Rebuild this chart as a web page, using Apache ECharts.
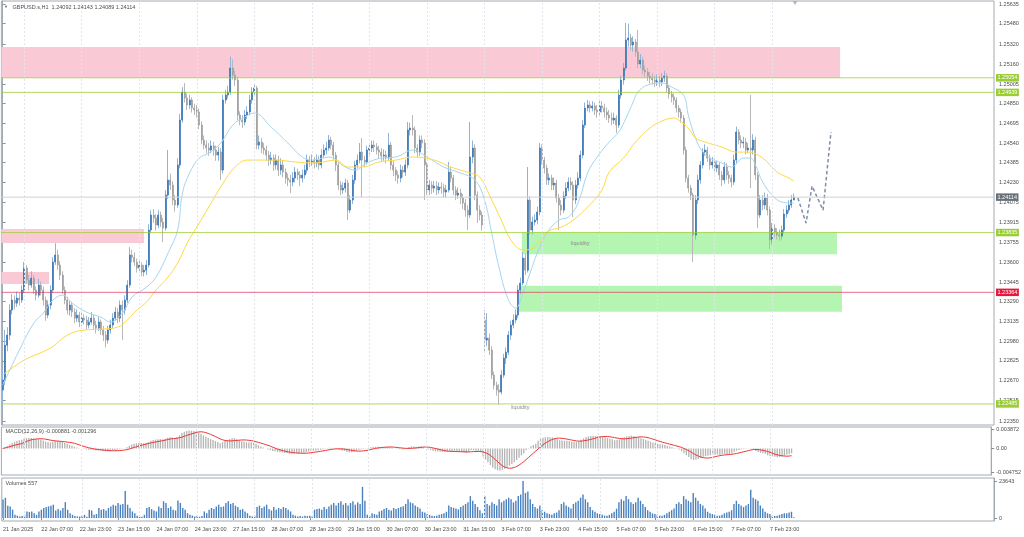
<!DOCTYPE html>
<html><head><meta charset="utf-8">
<script src="https://cdn.jsdelivr.net/npm/echarts@6/dist/echarts.min.js"></script>
<style>html,body{margin:0;padding:0;background:#fff}#c{width:1024px;height:537px}</style>
</head><body><div id="c"></div><script>
// ---------- DATA (GBPUSD.s H1, 21 Jan 15:00 .. 10 Feb 09:00) ----------
const closes = [
1.22673,1.22948,1.23027,1.23224,1.23303,1.23279,1.23319,1.23303,1.23382,1.23555,
1.23461,1.23421,1.23476,1.23382,1.23342,1.23421,1.23382,1.23303,1.23185,1.23264,
1.23382,1.23603,1.23658,1.23579,1.23500,1.23382,1.23303,1.23224,1.23264,1.23209,
1.23161,1.23185,1.23130,1.23161,1.23146,1.23106,1.23130,1.23161,1.23106,1.23082,
1.23130,1.23067,1.23027,1.22988,1.23067,1.23106,1.23161,1.23209,1.23161,1.23264,
1.23224,1.23303,1.23421,1.23658,1.23640,1.23603,1.23555,1.23579,1.23524,1.23539,
1.23579,1.23855,1.23973,1.23949,1.23894,1.23973,1.23918,1.23870,1.24130,1.24249,
1.24209,1.24091,1.24052,1.24367,1.24721,1.24942,1.24895,1.24840,1.24879,1.24816,
1.24800,1.24785,1.24682,1.24564,1.24524,1.24501,1.24485,1.24517,1.24485,1.24445,
1.24469,1.24327,1.24879,1.24918,1.24942,1.25131,1.25076,1.25037,1.24761,1.24721,
1.24706,1.24761,1.24785,1.24879,1.24942,1.24974,1.24524,1.24548,1.24501,1.24485,
1.24445,1.24406,1.24422,1.24367,1.24406,1.24327,1.24367,1.24311,1.24264,1.24249,
1.24233,1.24264,1.24311,1.24288,1.24264,1.24288,1.24327,1.24406,1.24391,1.24406,
1.24382,1.24406,1.24367,1.24445,1.24485,1.24501,1.24564,1.24524,1.24445,1.24367,
1.24209,1.24170,1.24185,1.24225,1.24012,1.24091,1.24249,1.24367,1.24406,1.24469,
1.24406,1.24391,1.24485,1.24501,1.24524,1.24509,1.24485,1.24469,1.24438,1.24445,
1.24422,1.24524,1.24367,1.24327,1.24288,1.24264,1.24327,1.24311,1.24367,1.24643,
1.24658,1.24643,1.24501,1.24469,1.24564,1.24540,1.24367,1.24170,1.24209,1.24185,
1.24201,1.24170,1.24193,1.24185,1.24154,1.24170,1.24311,1.24264,1.24170,1.24130,
1.24146,1.24107,1.24067,1.24012,1.23973,1.24430,1.24501,1.24130,1.24012,1.23973,
1.23894,1.22988,1.23003,1.22909,1.22712,1.22633,1.22594,1.22578,1.22712,1.22846,
1.22893,1.23027,1.23106,1.23146,1.23185,1.23382,1.23437,1.23634,1.23539,1.24091,
1.23855,1.23918,1.23933,1.23997,1.24501,1.24406,1.24343,1.24249,1.24264,1.24209,
1.24225,1.24107,1.24052,1.24012,1.24123,1.24185,1.24233,1.24209,1.24091,1.24209,
1.24264,1.24445,1.24682,1.24816,1.24840,1.24816,1.24832,1.24800,1.24785,1.24832,
1.24816,1.24785,1.24761,1.24737,1.24721,1.24737,1.24682,1.24918,1.25037,1.25131,
1.25352,1.25368,1.25312,1.25336,1.25257,1.25163,1.25194,1.25115,1.25100,1.25068,
1.25052,1.25037,1.25021,1.25037,1.25021,1.25052,1.25068,1.24974,1.24926,1.24903,
1.24879,1.24816,1.24785,1.24737,1.24485,1.24264,1.24185,1.24130,1.23815,1.24091,
1.24249,1.24367,1.24469,1.24485,1.24422,1.24367,1.24391,1.24343,1.24367,1.24288,
1.24249,1.24351,1.24288,1.24264,1.24233,1.24406,1.24627,1.24564,1.24540,1.24548,
1.24485,1.24501,1.24485,1.24564,1.24288,1.23973,1.24091,1.24052,1.24107,1.24012,
1.23776,1.23870,1.23839,1.23815,1.23807,1.23855,1.23981,1.24012,1.24052,1.24092,
1.24114];
const highs = [
1.22752,1.23067,1.23090,1.23270,1.23350,1.23340,1.23370,1.23360,1.23420,1.23603,
1.23580,1.23500,1.23530,1.23500,1.23410,1.23470,1.23450,1.23410,1.23330,1.23300,
1.23420,1.23640,1.23752,1.23700,1.23610,1.23530,1.23410,1.23330,1.23300,1.23290,
1.23240,1.23230,1.23210,1.23200,1.23190,1.23180,1.23170,1.23210,1.23190,1.23140,
1.23170,1.23150,1.23100,1.23060,1.23100,1.23150,1.23200,1.23250,1.23240,1.23300,
1.23300,1.23340,1.23460,1.23720,1.23700,1.23680,1.23630,1.23620,1.23600,1.23580,
1.23620,1.23900,1.24010,1.24020,1.23980,1.24010,1.24000,1.23950,1.24170,1.24485,
1.24300,1.24240,1.24130,1.24420,1.24770,1.24980,1.25013,1.24930,1.24920,1.24900,
1.24850,1.24840,1.24810,1.24710,1.24600,1.24560,1.24540,1.24560,1.24550,1.24520,
1.24510,1.24500,1.24920,1.24960,1.24990,1.25220,1.25200,1.25110,1.25060,1.24790,
1.24760,1.24800,1.24830,1.24920,1.24980,1.25000,1.24990,1.24600,1.24580,1.24540,
1.24520,1.24480,1.24470,1.24450,1.24450,1.24440,1.24420,1.24400,1.24340,1.24300,
1.24290,1.24310,1.24350,1.24340,1.24320,1.24330,1.24370,1.24450,1.24440,1.24450,
1.24430,1.24450,1.24440,1.24490,1.24530,1.24550,1.24603,1.24590,1.24550,1.24470,
1.24390,1.24240,1.24230,1.24260,1.24250,1.24130,1.24290,1.24400,1.24450,1.24540,
1.24580,1.24440,1.24520,1.24540,1.24560,1.24560,1.24540,1.24520,1.24500,1.24490,
1.24480,1.24620,1.24550,1.24400,1.24350,1.24320,1.24370,1.24360,1.24410,1.24706,
1.24700,1.24760,1.24670,1.24530,1.24600,1.24600,1.24570,1.24390,1.24250,1.24240,
1.24240,1.24240,1.24230,1.24230,1.24220,1.24210,1.24391,1.24350,1.24290,1.24200,
1.24190,1.24180,1.24140,1.24100,1.24050,1.24706,1.24560,1.24530,1.24160,1.24050,
1.24000,1.23224,1.23201,1.23040,1.22940,1.22740,1.22660,1.22640,1.22750,1.22880,
1.22930,1.23060,1.23140,1.23190,1.23230,1.23420,1.23480,1.23680,1.23670,1.24351,
1.24120,1.23960,1.23980,1.24040,1.24540,1.24530,1.24430,1.24370,1.24300,1.24290,
1.24270,1.24250,1.24140,1.24090,1.24160,1.24230,1.24270,1.24270,1.24240,1.24250,
1.24310,1.24480,1.24720,1.24860,1.24879,1.24870,1.24870,1.24860,1.24840,1.24870,
1.24870,1.24850,1.24820,1.24800,1.24780,1.24780,1.24760,1.24960,1.25070,1.25170,
1.25486,1.25480,1.25400,1.25380,1.25360,1.25431,1.25240,1.25220,1.25150,1.25130,
1.25100,1.25090,1.25070,1.25080,1.25070,1.25090,1.25110,1.25090,1.25000,1.24950,
1.24930,1.24900,1.24840,1.24810,1.24760,1.24510,1.24290,1.24210,1.24150,1.24130,
1.24290,1.24400,1.24500,1.24530,1.24510,1.24450,1.24430,1.24420,1.24400,1.24390,
1.24320,1.24390,1.24380,1.24320,1.24290,1.24450,1.24670,1.24650,1.24600,1.24590,
1.24580,1.24540,1.24918,1.24610,1.24590,1.24310,1.24130,1.24130,1.24150,1.24140,
1.24040,1.23910,1.23900,1.23870,1.23860,1.23890,1.24020,1.24050,1.24090,1.24130,
1.24143];
const lows = [
1.22437,1.22633,1.22900,1.22990,1.23190,1.23230,1.23250,1.23260,1.23280,1.23360,
1.23430,1.23380,1.23400,1.23350,1.23300,1.23320,1.23340,1.23260,1.23140,1.23160,
1.23230,1.23360,1.23580,1.23540,1.23460,1.23350,1.23270,1.23190,1.23180,1.23170,
1.23120,1.23130,1.23090,1.23100,1.23110,1.23070,1.23080,1.23110,1.23070,1.23040,
1.23060,1.23030,1.22980,1.22930,1.22960,1.23040,1.23080,1.23140,1.23120,1.23130,
1.22990,1.23190,1.23280,1.23400,1.23600,1.23570,1.23520,1.23530,1.23490,1.23490,
1.23500,1.23560,1.23830,1.23910,1.23850,1.23870,1.23880,1.23760,1.23850,1.24100,
1.24170,1.24050,1.24000,1.24030,1.24340,1.24700,1.24860,1.24800,1.24810,1.24780,
1.24760,1.24740,1.24650,1.24530,1.24490,1.24460,1.24440,1.24460,1.24440,1.24400,
1.24400,1.24249,1.24300,1.24850,1.24890,1.24920,1.25040,1.24990,1.24720,1.24680,
1.24660,1.24680,1.24730,1.24760,1.24850,1.24920,1.24490,1.24490,1.24460,1.24450,
1.24400,1.24360,1.24370,1.24320,1.24330,1.24280,1.24290,1.24270,1.24220,1.24200,
1.24146,1.24200,1.24230,1.24250,1.24200,1.24230,1.24260,1.24300,1.24350,1.24360,
1.24340,1.24350,1.24330,1.24340,1.24420,1.24450,1.24480,1.24490,1.24410,1.24320,
1.24170,1.24130,1.24140,1.24150,1.23933,1.23990,1.24060,1.24220,1.24340,1.24380,
1.24115,1.24350,1.24370,1.24450,1.24470,1.24470,1.24450,1.24420,1.24400,1.24400,
1.24380,1.24400,1.24330,1.24280,1.24240,1.24220,1.24230,1.24270,1.24280,1.24340,
1.24600,1.24600,1.24460,1.24430,1.24440,1.24500,1.24091,1.24130,1.24130,1.24140,
1.24150,1.24130,1.24140,1.24140,1.24110,1.24110,1.24150,1.24230,1.24130,1.24090,
1.24100,1.24060,1.24020,1.23960,1.23855,1.23950,1.24380,1.24090,1.23910,1.23930,
1.23850,1.22885,1.22940,1.22870,1.22680,1.22600,1.22550,1.22480,1.22560,1.22690,
1.22800,1.22870,1.22990,1.23080,1.23120,1.23160,1.23350,1.23420,1.23500,1.23520,
1.23820,1.23820,1.23890,1.23900,1.23970,1.24370,1.24300,1.24210,1.24210,1.24170,
1.24170,1.24070,1.23855,1.23970,1.23990,1.24100,1.24160,1.24170,1.23957,1.24060,
1.24180,1.24240,1.24420,1.24660,1.24790,1.24780,1.24790,1.24760,1.24740,1.24750,
1.24780,1.24740,1.24720,1.24700,1.24680,1.24690,1.24619,1.24660,1.24890,1.25000,
1.25110,1.25300,1.25270,1.25260,1.25220,1.25130,1.25130,1.25080,1.25060,1.25030,
1.25010,1.25000,1.24980,1.24990,1.24980,1.24990,1.25020,1.24940,1.24890,1.24860,
1.24840,1.24780,1.24740,1.24700,1.24450,1.24230,1.24150,1.24090,1.23603,1.23780,
1.24060,1.24220,1.24340,1.24440,1.24390,1.24330,1.24340,1.24300,1.24310,1.24250,
1.24200,1.24220,1.24250,1.24220,1.24190,1.24210,1.24380,1.24530,1.24500,1.24500,
1.24450,1.24460,1.24185,1.24450,1.24250,1.23870,1.23950,1.24010,1.24020,1.23970,
1.23705,1.23740,1.23800,1.23780,1.23770,1.23780,1.23830,1.23950,1.23990,1.24030,
1.24089];
const firstOpen = 1.22594;
const gapOpens = {201: 1.23146};           // Monday 3 Feb gap open
const volumes = [
11800,12900,7900,7400,5300,2000,1500,900,1200,2000,
4200,3800,4200,3100,2000,4200,5300,6400,7000,7400,
7900,8500,4800,5700,4800,6400,10100,5300,3100,2000,
1200,900,900,1500,2000,800,5300,4800,2000,2500,
6400,5300,5700,4800,6400,7400,8500,7900,9600,8500,
9000,17300,8500,6400,4200,3100,1500,900,800,2000,
6400,7000,5700,4800,4200,7400,6400,10700,9600,6400,
7400,5300,4800,11200,9600,6400,5300,3100,2000,1500,
900,1500,800,1200,4200,3100,5300,6400,5700,7400,
8500,7000,7400,9600,10700,9000,9600,7900,7000,5300,
5700,4200,3100,1500,900,1500,7000,7900,6400,7400,
8500,5700,4800,7000,5300,6400,5700,7000,6400,5300,
4200,2000,1500,900,1200,900,1500,1200,1500,1000,
5300,5700,6000,5300,7000,5700,7400,8500,9600,8000,
9600,10700,8500,9600,8000,9600,10700,8500,10000,9000,
19900,11000,2000,1500,3100,2500,2000,4200,4800,5700,
6400,5300,4800,6400,5700,6400,7000,7500,9000,12000,
10000,9500,8000,7000,6000,4000,3500,2500,2000,1500,
1200,1500,2000,2500,3000,4000,8000,7000,6500,6000,
5500,7000,8000,9000,10000,14000,11000,9000,7000,5000,
3000,14000,9000,8000,10000,9000,8000,12000,10000,11000,
12000,13000,12000,10000,11000,14000,15000,23643,16000,17000,
12000,9000,7000,6000,8000,5000,4000,3000,2500,2000,
3000,3500,5000,9000,10000,8000,7000,6000,9000,10000,
11000,13000,15000,12000,10000,7000,5000,4000,3000,2500,
2000,1500,1500,2000,3000,4000,6000,10000,12000,11000,
14000,12000,10000,9000,10000,13000,11000,9000,7000,5000,
4000,3000,2500,2000,1500,1500,2000,3000,4000,5000,
6000,9000,10000,9000,14000,12000,11000,10000,16000,13000,
11000,9000,8000,6000,4000,3000,2500,2000,1500,1500,
2000,3000,3500,4000,5000,9000,11000,9000,8000,7000,
8000,9000,18000,13000,12000,11000,8000,6000,4000,3000,
2500,1500,1200,1500,2000,2500,3000,3000,3500,4000,
557];
// moving averages (bar index, price)
const maFastIdx = [0,3,7,13,17,21,25,29,35,41,45,50,54,60,64,69,73,75,78,82,86,91,96,101,105,112,119,125,129,136,143,147,152,158,164,171,177,184,191,197,201,204,207,211,214,217,220,223,227,232,236,240,244,248,253,257,260,263,265,269,275,279,284,286,289,292,295,300,304,309,312,314,317,321,325,330];
const maFast = [1.22633,1.22752,1.22909,1.23122,1.23201,1.23303,1.23342,1.23279,1.23208,1.23169,1.23130,1.23201,1.23327,1.23405,1.23484,1.23673,1.23855,1.24146,1.24304,1.24422,1.24461,1.24540,1.24682,1.24745,1.24777,1.24666,1.24540,1.24430,1.24406,1.24430,1.24351,1.24327,1.24383,1.24422,1.24430,1.24485,1.24430,1.24351,1.24304,1.24249,1.24091,1.23831,1.23563,1.23303,1.23240,1.23358,1.23516,1.23673,1.23831,1.23933,1.23957,1.24067,1.24304,1.24430,1.24548,1.24627,1.24737,1.24863,1.24942,1.24997,1.25013,1.24981,1.24918,1.24761,1.24580,1.24469,1.24422,1.24383,1.24351,1.24422,1.24422,1.24367,1.24233,1.24130,1.24075,1.24067];
const maSlowIdx = [0,9,20,27,34,41,48,52,56,60,64,69,73,77,81,86,92,97,102,106,114,122,130,139,144,150,157,164,171,180,187,195,199,204,208,212,217,222,227,233,238,244,250,253,259,264,270,275,280,282,286,289,293,300,306,311,317,323,328,330];
const maSlow = [1.22712,1.22830,1.22925,1.23027,1.23067,1.23074,1.23090,1.23146,1.23224,1.23287,1.23382,1.23484,1.23595,1.23752,1.23878,1.24036,1.24225,1.24351,1.24406,1.24406,1.24406,1.24391,1.24383,1.24406,1.24351,1.24351,1.24391,1.24406,1.24430,1.24406,1.24351,1.24304,1.24272,1.24091,1.23933,1.23776,1.23697,1.23721,1.23839,1.23878,1.23933,1.24036,1.24170,1.24312,1.24422,1.24548,1.24658,1.24714,1.24737,1.24721,1.24658,1.24580,1.24548,1.24509,1.24469,1.24469,1.24422,1.24312,1.24264,1.24241];
// hand-drawn projection (bar index, price)
const projIdx = [331.7,335.1,337.6,342.2,345.5];
const projPrice = [1.24107,1.23910,1.24201,1.24012,1.24627];
// zones (bar index from/to, price top/bottom)
const supplyZones = [[-0.5,349.3,1.25297,1.25054],[-0.5,59.0,1.23862,1.23752],[-0.5,19.4,1.23524,1.23430]];
const demandZones = [[216.6,348.0,1.23835,1.23665],[215.4,350.1,1.23416,1.23211]];
const greenLevels = [1.25054,1.24939,1.23835,1.22485];
const redLevels = [1.23364];
const bidLevel = 1.24114;
const notes = [[237.1,1.23752,'liquidity'],[212.1,1.22460,'liquidity']];
const tickLabels = ['21 Jan 2025','22 Jan 07:00','22 Jan 23:00','23 Jan 15:00','24 Jan 07:00','24 Jan 23:00','27 Jan 15:00','28 Jan 07:00','28 Jan 23:00','29 Jan 15:00','30 Jan 07:00','30 Jan 23:00','31 Jan 15:00','3 Feb 07:00','3 Feb 23:00','4 Feb 15:00','5 Feb 07:00','5 Feb 23:00','6 Feb 15:00','7 Feb 07:00','7 Feb 23:00'];
const tickStep = 16;
const priceTicks = [1.25635,1.25480,1.25320,1.25160,1.25005,1.24850,1.24695,1.24540,1.24385,1.24230,1.24075,1.23915,1.23755,1.23600,1.23445,1.23290,1.23135,1.22980,1.22825,1.22670,1.22515,1.22350];
const macdTicks = [0.003872,0,-0.004752];
const volTicks = [23643,0];

// ---------- build ----------
const N = 414;                       // bar slots across the window (incl. shift space)
const startMs = Date.UTC(2025,0,21,15);
const cats = []; const dayStarts = [];
{ let t = startMs; for (let i=0;i<N;i++){ let d=new Date(t); while(d.getUTCDay()===0||d.getUTCDay()===6){ t+=3600000; d=new Date(t);} cats.push(d.toISOString().slice(0,13)); if(d.getUTCHours()===0 && i<closes.length) dayStarts.push(i); t+=3600000; } }
const opens = closes.map((c,i)=> i===0 ? firstOpen : (gapOpens[i]!==undefined ? gapOpens[i] : closes[i-1]));
const wickData = closes.map((c,i)=>[opens[i],c,lows[i],highs[i]]);
const bodyData = closes.map((c,i)=>[opens[i],c,Math.min(opens[i],c),Math.max(opens[i],c)]);
function ema(a,n){const k=2/(n+1);const o=[];let e=a[0];a.forEach((v,i)=>{e=i?v*k+e*(1-k):v;o.push(e);});return o;}
const e12=ema(closes,12), e26=ema(closes,26);
const macd = closes.map((c,i)=>e12[i]-e26[i]);
const signal = macd.map((v,i)=>{const s=Math.max(0,i-8);let m=0;for(let j=s;j<=i;j++)m+=macd[j];return m/(i-s+1);});

const FONT = 'Liberation Sans', FS = 5.5, TXT = '#4d4d4d', BORDER = '#a2aab4';
const mkSep = ()=>({symbol:['none','none'],silent:true,label:{show:false},lineStyle:{color:'#e3e5ee',type:[2,2],width:1},data:dayStarts.map(i=>({xAxis:i}))});
const levelSeries = (p,line,box,op)=>({type:'line',xAxisIndex:1,yAxisIndex:0,data:[[-0.5,p],[N-0.5,p]],showSymbol:false,silent:true,z:5,
  lineStyle:{color:line,width:1,opacity:op},
  endLabel:{show:true,distance:2,formatter:p.toFixed(5),backgroundColor:box,color:'#fff',fontSize:FS,fontFamily:FONT,padding:[1,1.5,0.5,1.5]}});
const yAx = (grid,min,max,ticks,fmt)=>({type:'value',gridIndex:grid,position:'right',min,max,scale:true,splitLine:{show:false},
  axisLine:{show:true,lineStyle:{color:BORDER}},axisTick:{show:true,length:3,customValues:ticks,lineStyle:{color:'#8a9099'}},
  axisLabel:{customValues:ticks,formatter:fmt,fontSize:FS,fontFamily:FONT,color:TXT,margin:5}});

const option = {
  animation:false, backgroundColor:'#ffffff',
  textStyle:{fontFamily:FONT},
  title:[
    {text:'\u25BC',left:4,top:4.5,padding:0,textStyle:{fontSize:4,color:'#666',fontWeight:'normal'}},
    {text:`GBPUSD.s,H1  ${opens[330].toFixed(5)} ${highs[330].toFixed(5)} ${lows[330].toFixed(5)} ${closes[330].toFixed(5)}`,left:12.5,top:4,padding:0,textStyle:{fontSize:FS,color:TXT,fontWeight:'normal',fontFamily:FONT}},
    {text:'MACD(12,26,9) -0.000881 -0.001296',left:5.5,top:428,padding:0,textStyle:{fontSize:FS,color:TXT,fontWeight:'normal',fontFamily:FONT}},
    {text:`Volumes ${volumes[330]}`,left:5.5,top:480,padding:0,textStyle:{fontSize:FS,color:TXT,fontWeight:'normal',fontFamily:FONT}}
  ],
  grid:[
    {left:1.4,width:992.6,top:1,height:424,show:true,borderColor:BORDER,borderWidth:1,backgroundColor:'#fff'},
    {left:1.4,width:992.6,top:427,height:48,show:true,borderColor:BORDER,borderWidth:1,backgroundColor:'#fff'},
    {left:1.4,width:992.6,top:478,height:43,show:true,borderColor:BORDER,borderWidth:1,backgroundColor:'#fff'}
  ],
  xAxis:[
    {type:'category',gridIndex:0,data:cats,boundaryGap:true,show:false},
    {type:'value',gridIndex:0,min:-0.5,max:N-0.5,show:false},
    {type:'category',gridIndex:1,data:cats,boundaryGap:true,show:false},
    {type:'category',gridIndex:2,data:cats,boundaryGap:true,
      axisLine:{show:false},
      axisTick:{show:true,alignWithLabel:true,length:2,interval:(i)=>i%tickStep===0&&i/tickStep<tickLabels.length,lineStyle:{color:'#8a9099'}},
      axisLabel:{show:true,interval:(i)=>i%tickStep===0&&i/tickStep<tickLabels.length,formatter:(v,i)=>tickLabels[i/tickStep]||'',align:'left',fontSize:FS,fontFamily:FONT,color:TXT,margin:5},
      splitLine:{show:false}}
  ],
  yAxis:[
    yAx(0,1.22319,1.25659,priceTicks,v=>v.toFixed(5)),
    yAx(1,-0.005262,0.004269,macdTicks,v=>v===0?'0.00':v.toFixed(6)),
    yAx(2,-1917,25560,volTicks,v=>String(Math.round(v)))
  ],
  series:[
    {type:'line',xAxisIndex:1,yAxisIndex:0,data:[],z:1,silent:true,
      markArea:{silent:true,data:[
        ...supplyZones.map(z=>[{xAxis:z[0],yAxis:z[2],itemStyle:{color:'#f9cad5'}},{xAxis:z[1],yAxis:z[3]}]),
        ...demandZones.map(z=>[{xAxis:z[0],yAxis:z[2],itemStyle:{color:'#b4f5b1'}},{xAxis:z[1],yAxis:z[3]}])]},
      markLine:mkSep()},
    {type:'candlestick',xAxisIndex:0,yAxisIndex:0,data:wickData,barWidth:0.01,z:2,silent:true,
      itemStyle:{color:'#9fc0e2',color0:'#c6c6c6',borderColor:'#8fb4dc',borderColor0:'#b8b8b8',borderWidth:1}},
    {type:'candlestick',xAxisIndex:0,yAxisIndex:0,data:bodyData,barWidth:1.5,z:3,silent:true,
      itemStyle:{color:'#3a76b4',color0:'#a0a0a0',borderColor:'#3a76b4',borderColor0:'#a0a0a0',borderWidth:0.7}},
    {type:'line',xAxisIndex:1,yAxisIndex:0,data:maFastIdx.map((x,i)=>[x,maFast[i]]),smooth:0.4,showSymbol:false,z:4,silent:true,
      lineStyle:{color:'#a4d6f0',width:1}},
    {type:'line',xAxisIndex:1,yAxisIndex:0,data:maSlowIdx.map((x,i)=>[x,maSlow[i]]),smooth:0.4,showSymbol:false,z:4,silent:true,
      lineStyle:{color:'#ffd945',width:1}},
    {type:'line',xAxisIndex:1,yAxisIndex:0,data:projIdx.map((x,i)=>[x,projPrice[i]]),showSymbol:false,z:4,silent:true,
      lineStyle:{color:'#7f8ea6',width:1.5,type:[3.5,2.5]}},
    ...greenLevels.map(p=>levelSeries(p,'#9acd32','#9acd32',0.75)),
    ...redLevels.map(p=>levelSeries(p,'#e0305a','#e3193f',0.7)),
    levelSeries(bidLevel,'#d0d0d0','#68717b',1),
    {type:'line',xAxisIndex:1,yAxisIndex:0,data:[],z:6,silent:true,
      markPoint:{silent:true,data:[
        ...notes.map(n=>({coord:[n[0],n[1]],symbol:'circle',symbolSize:0,label:{show:true,position:'right',distance:0,formatter:n[2],color:'#8a8a8a',fontSize:FS,fontFamily:FONT}})),
        {coord:[330.5,1.25643],symbol:'triangle',symbolRotate:180,symbolSize:[5,4],itemStyle:{color:'#b8b8b8'},label:{show:false}}]}},
    {type:'bar',xAxisIndex:2,yAxisIndex:1,data:macd,barWidth:1.3,z:2,silent:true,itemStyle:{color:'#b3b3b3'},markLine:mkSep()},
    {type:'line',xAxisIndex:2,yAxisIndex:1,data:signal,showSymbol:false,z:3,silent:true,lineStyle:{color:'#ee3636',width:1}},
    {type:'bar',xAxisIndex:3,yAxisIndex:2,data:volumes,barWidth:1.4,z:2,silent:true,itemStyle:{color:'#4a80bd'},markLine:mkSep()}
  ]
};
echarts.init(document.getElementById('c'),null,{renderer:'canvas'}).setOption(option);
</script></body></html>
